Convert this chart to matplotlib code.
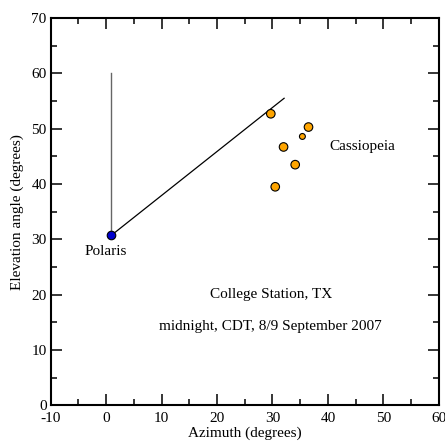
import matplotlib
matplotlib.use('Agg')
import matplotlib.pyplot as plt
from matplotlib.ticker import MultipleLocator

plt.rcParams['font.family'] = ['Liberation Serif', 'DejaVu Serif']
plt.rcParams['axes.unicode_minus'] = False

# Polaris and the pointer lines
polaris_az = 0.9
polaris_el = 30.7
zenith_line_top = 60
pointer_end = (32.1, 55.5)

# Cassiopeia stars
cas_az = [29.7, 36.5, 35.4, 32.0, 34.1, 30.5]
cas_el = [52.7, 50.3, 48.6, 46.7, 43.5, 39.5]
cas_size = [38, 38, 18, 38, 38, 38]

fig = plt.figure(figsize=(4.45, 4.41), dpi=100)
ax = fig.add_axes([0.114, 0.081, 0.872, 0.878])

ax.plot([polaris_az, polaris_az], [polaris_el, zenith_line_top], color='#666666', lw=1.0, zorder=1)
ax.plot([polaris_az, pointer_end[0]], [polaris_el, pointer_end[1]], color='black', lw=0.9, zorder=1)
ax.scatter([polaris_az], [polaris_el], s=38, color='#0000cc', edgecolors='black', linewidths=0.8, zorder=3)
ax.scatter(cas_az, cas_el, s=cas_size, color='#ffa500', edgecolors='black', linewidths=0.8, zorder=3)

ax.text(0, 27.8, 'Polaris', ha='center', va='center', fontsize=11)
ax.text(46.2, 46.7, 'Cassiopeia', ha='center', va='center', fontsize=11)
ax.text(29.7, 20.0, 'College Station, TX', ha='center', va='center', fontsize=11)
ax.text(29.7, 14.2, 'midnight, CDT, 8/9 September 2007', ha='center', va='center', fontsize=11)

ax.set_xlim(-10, 60)
ax.set_ylim(0, 70)
ax.xaxis.set_major_locator(MultipleLocator(10))
ax.xaxis.set_minor_locator(MultipleLocator(5))
ax.yaxis.set_major_locator(MultipleLocator(10))
ax.yaxis.set_minor_locator(MultipleLocator(5))
ax.tick_params(which='both', direction='in', top=True, right=True, labelsize=11, width=1.1, colors='black')
ax.tick_params(which='major', length=8)
ax.tick_params(which='minor', length=4)
ax.tick_params(axis='x', which='major', pad=5)
ax.tick_params(axis='y', which='major', pad=3)
for s in ax.spines.values():
    s.set_linewidth(1.5)

ax.set_xlabel('Azimuth (degrees)', fontsize=11, labelpad=1)
ax.set_ylabel('Elevation angle (degrees)', fontsize=11, labelpad=5)

fig.savefig('out.png', dpi=100)
